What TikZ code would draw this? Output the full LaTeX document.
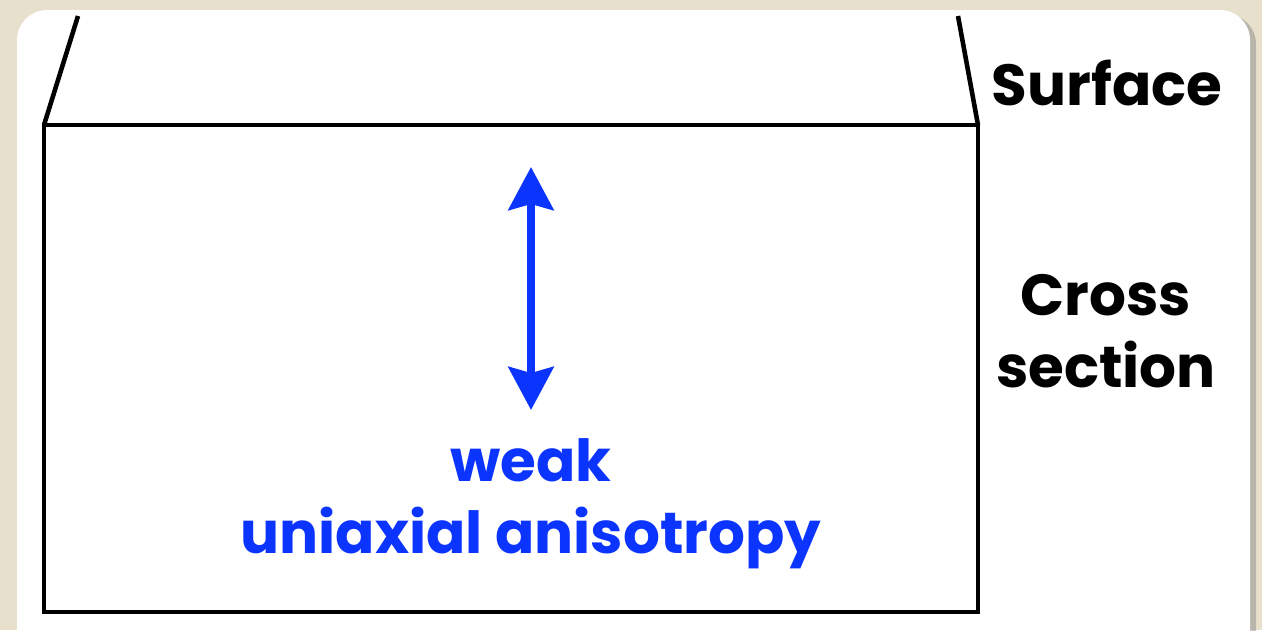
\documentclass[tikz,border=0pt]{standalone}
\usepackage{fontspec}
\setmainfont{Poppins}
\usetikzlibrary{arrows.meta}
\definecolor{paper}{RGB}{231,224,204}
\definecolor{axisblue}{RGB}{12,52,255}
\begin{document}
\begin{tikzpicture}[
  x=0.02cm, y=-0.02cm,
  edge/.style={line width=2.6pt, line join=miter},
  caption/.style={font=\bfseries\fontsize{33}{41}\selectfont, align=center, inner sep=0pt},
  axisarrow/.style={{Stealth[length=0.86cm, width=0.9cm, inset=0.12cm]}-{Stealth[length=0.86cm, width=0.9cm, inset=0.12cm]}, line width=4.5pt, axisblue}
]
\useasboundingbox (0,0) rectangle (1262,630);
\fill[paper] (0,0) rectangle (1262,630);
\fill[black!45, opacity=0.5, rounded corners=0.6cm] (21,14) rectangle (1256,670);
\fill[white, rounded corners=0.6cm] (17,10) rectangle (1250,666);
% sample block
\draw[edge] (44,125) rectangle (978,612);
\draw[edge] (44,125) -- (78,16);
\draw[edge] (978,125) -- (958,16);
\node[caption] (surface) at (1107,83) {Surface};
\node[caption] (crosssec) at (1106,331) {Cross\\section};
% easy axis
\coordinate (up) at (531,167);
\coordinate (down) at (531,410);
\draw[axisarrow] (up) -- (down);
\node[caption, text=axisblue] (weakaxis) at (531,504) {weak\\uniaxial anisotropy};
\end{tikzpicture}
\end{document}
